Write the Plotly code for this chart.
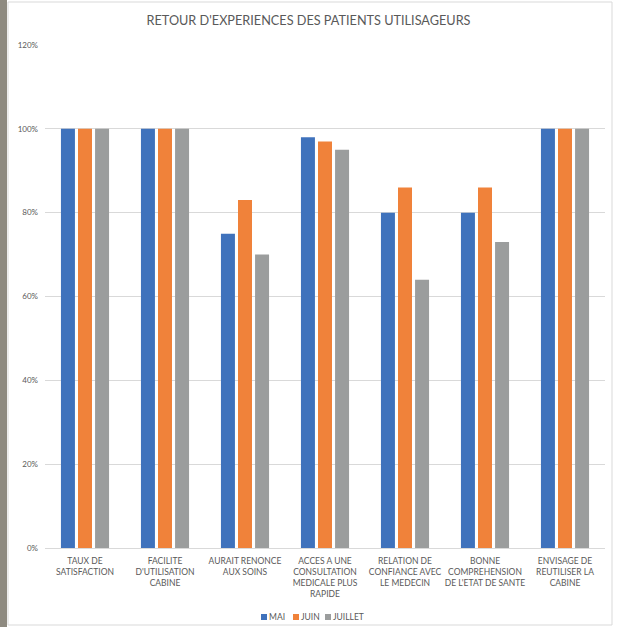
import plotly.graph_objects as go

categories = ["TAUX DE<br>SATISFACTION", "FACILITE<br>D'UTILISATION<br>CABINE", "AURAIT RENONCE<br>AUX SOINS",
              "ACCES A UNE<br>CONSULTATION<br>MEDICALE PLUS<br>RAPIDE", "RELATION DE<br>CONFIANCE AVEC<br>LE MEDECIN",
              "BONNE<br>COMPREHENSION<br>DE L'ETAT DE SANTE", "ENVISAGE DE<br>REUTILISER LA<br>CABINE"]
mai = [1.00, 1.00, 0.75, 0.98, 0.80, 0.80, 1.00]
juin = [1.00, 1.00, 0.83, 0.97, 0.86, 0.86, 1.00]
juillet = [1.00, 1.00, 0.70, 0.95, 0.64, 0.73, 1.00]
series = [("MAI", mai, "#3F72BC"), ("JUIN", juin, "#F0823A"), ("JUILLET", juillet, "#9B9D9D")]

FONT = "Lato, 'Liberation Sans', sans-serif"
W, H = 617, 627
L, R, T, B = 45, 12, 45, 79
PW, PH = W - L - R, H - T - B


def px(x):
    return (x - L) / PW


def py(y):
    return (H - B - y) / PH


fig = go.Figure()
for name, vals, col in series:
    fig.add_trace(go.Bar(x=categories, y=vals, name=name, showlegend=False,
                         marker=dict(color=col, line=dict(width=0))))

# compact legend (Excel style): small squares + labels
legend_x = [261, 293, 325]
shapes = [
    dict(type="rect", xref="paper", yref="paper", x0=px(0), x1=px(7), y0=py(H), y1=py(0),
         fillcolor="#8E8A80", line=dict(width=0), layer="below"),
    dict(type="rect", xref="paper", yref="paper", x0=px(8), x1=px(612), y0=py(625), y1=py(2),
         fillcolor="rgba(0,0,0,0)", line=dict(color="#D9D9D9", width=1), layer="below"),
]
annotations = []
for (name, vals, col), lx in zip(series, legend_x):
    shapes.append(dict(type="rect", xref="paper", yref="paper", x0=px(lx), x1=px(lx + 6),
                       y0=py(620), y1=py(614), fillcolor=col, line=dict(width=0)))
    annotations.append(dict(text=name, xref="paper", yref="paper", x=px(lx + 7), y=py(617),
                            xanchor="left", yanchor="middle", showarrow=False, borderpad=0,
                            font=dict(family=FONT, size=8.5, color="#595959")))

fig.update_layout(
    width=W, height=H,
    margin=dict(l=L, r=R, t=T, b=B),
    paper_bgcolor="white", plot_bgcolor="white",
    barmode="group", bargap=0.36, bargroupgap=0.18,
    showlegend=False,
    title=dict(text="RETOUR D'EXPERIENCES DES PATIENTS UTILISAGEURS", x=0.5, xanchor="center",
               y=1 - 21 / H, yanchor="middle", font=dict(family=FONT, size=12.7, color="#595959")),
    font=dict(family=FONT, size=8.5, color="#595959"),
    yaxis=dict(range=[0, 1.2], dtick=0.2, tickformat=".0%", showgrid=True, gridcolor="#D9D9D9",
               gridwidth=1, zeroline=False, ticks="", ticklen=0, automargin=False,
               ticklabelstandoff=6, tickfont=dict(size=8, color="#595959")),
    xaxis=dict(showline=True, linecolor="#D9D9D9", linewidth=1, ticks="", tickangle=0, automargin=False,
               ticklabelstandoff=5, tickfont=dict(size=8.5, color="#595959")),
    shapes=shapes,
    annotations=annotations,
)
fig.write_html("out.html", config={"displayModeBar": False},
               post_script="document.body.style.margin='0';document.body.style.overflow='hidden';")
